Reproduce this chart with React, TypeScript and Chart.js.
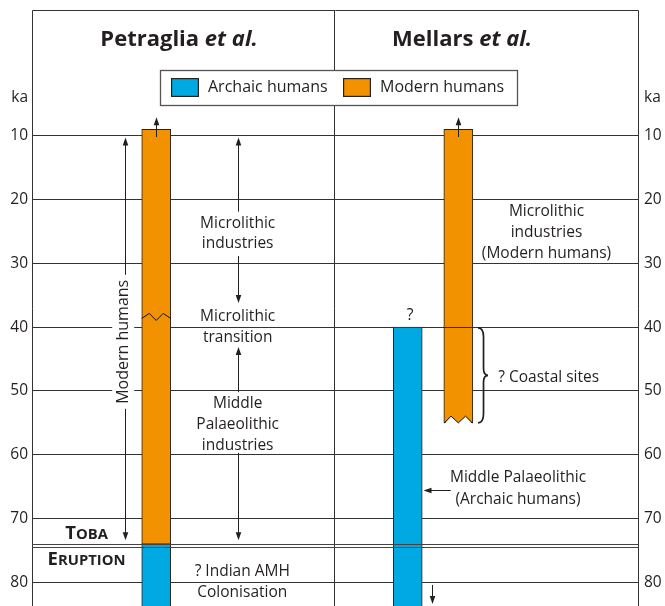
import React, { useEffect, useRef } from 'react';
import { Chart, registerables } from 'chart.js';

Chart.register(...registerables);

// ---------- data ----------
const KA_TICKS = [10, 20, 30, 40, 50, 60, 70, 80];
const KA_TICK_LABELS = ['10', '20', '30', '40', '50', '60', '70', '80'];
const KA_MIN = -9.7;
const KA_MAX = 83.7;

const SERIES_LABELS = ['Archaic humans', 'Modern humans'];
// horizontal positions (0-100 panel units) and age ranges (ka) of each bar
const ARCHAIC_X = [20.5, 62.0];
const ARCHAIC_RANGES: [number, number][] = [[74, 95], [40, 95]];
const MODERN_X = [20.5, 70.35];
const MODERN_RANGES: [number, number][] = [[9, 74], [9, 55]];

const STUDY_NAMES = ['Petraglia', 'Mellars'];
const TOBA_LINES = [74, 74.5];
const DIVIDER_X = 49.85;

// ---------- styles ----------
const ORANGE = '#F29200';
const BLUE = '#00A9E2';
const BAR_BORDER = '#2a2118';
const INK = '#231F20';
const LINE = '#333333';
const FONT_FAMILY = '"Open Sans", "DejaVu Sans", sans-serif';
const FONT = `15.5px ${FONT_FAMILY}`;

function arrow(ctx: CanvasRenderingContext2D, x1: number, y1: number, x2: number, y2: number) {
  const ang = Math.atan2(y2 - y1, x2 - x1);
  const hl = 8, hw = 2.8;
  ctx.beginPath();
  ctx.moveTo(x1, y1);
  ctx.lineTo(x2 - Math.cos(ang) * (hl - 1), y2 - Math.sin(ang) * (hl - 1));
  ctx.stroke();
  ctx.beginPath();
  ctx.moveTo(x2, y2);
  ctx.lineTo(x2 - Math.cos(ang) * hl - Math.sin(ang) * hw, y2 - Math.sin(ang) * hl + Math.cos(ang) * hw);
  ctx.lineTo(x2 - Math.cos(ang) * hl + Math.sin(ang) * hw, y2 - Math.sin(ang) * hl - Math.cos(ang) * hw);
  ctx.closePath();
  ctx.fill();
}

function text(ctx: CanvasRenderingContext2D, s: string, x: number, y: number, align: CanvasTextAlign = 'center', font = FONT) {
  ctx.font = font;
  ctx.textAlign = align;
  ctx.textBaseline = 'middle';
  ctx.fillText(s, x, y);
}

function smallCaps(ctx: CanvasRenderingContext2D, word: string, cx: number, baseline: number) {
  const big = `bold 18.5px ${FONT_FAMILY}`;
  const small = `bold 14.8px ${FONT_FAMILY}`;
  const first = word.charAt(0).toUpperCase();
  const rest = word.slice(1).toUpperCase();
  ctx.font = big;
  const w1 = ctx.measureText(first).width;
  ctx.font = small;
  const w2 = ctx.measureText(rest).width;
  const x = cx - (w1 + w2) / 2;
  ctx.textAlign = 'left';
  ctx.textBaseline = 'alphabetic';
  ctx.font = big;
  ctx.fillText(first, x, baseline);
  ctx.font = small;
  ctx.fillText(rest, x + w1, baseline);
}

function title(ctx: CanvasRenderingContext2D, name: string, cx: number, baseline: number) {
  const f1 = `bold 22px ${FONT_FAMILY}`;
  const f2 = `italic bold 22px ${FONT_FAMILY}`;
  const a = name + ' ';
  const b = 'et al.';
  ctx.font = f1;
  const w1 = ctx.measureText(a).width;
  ctx.font = f2;
  const w2 = ctx.measureText(b).width;
  const x = cx - (w1 + w2) / 2;
  ctx.textAlign = 'left';
  ctx.textBaseline = 'alphabetic';
  ctx.font = f1;
  ctx.fillText(a, x, baseline);
  ctx.font = f2;
  ctx.fillText(b, x + w1, baseline);
}

const annotationPlugin = {
  id: 'annotations',
  afterDatasetsDraw(chart: any) {
    const { ctx, chartArea: ca, scales } = chart;
    const xs = scales.x, ys = scales.y, ys2 = scales.y2;
    const px = (v: number) => xs.getPixelForValue(v);
    const py = (v: number) => ys.getPixelForValue(v);
    const crisp = (v: number) => Math.round(v) + 0.5;
    ctx.save();

    // frame and divider
    ctx.strokeStyle = LINE;
    ctx.lineWidth = 1;
    ctx.beginPath();
    ctx.moveTo(crisp(ca.left), ca.bottom + 2);
    ctx.lineTo(crisp(ca.left), crisp(ca.top));
    ctx.lineTo(crisp(ca.right), crisp(ca.top));
    ctx.lineTo(crisp(ca.right), ca.bottom + 2);
    ctx.moveTo(crisp(px(DIVIDER_X)), crisp(ca.top));
    ctx.lineTo(crisp(px(DIVIDER_X)), ca.bottom + 2);
    ctx.stroke();

    // Toba double line
    ctx.strokeStyle = '#444';
    TOBA_LINES.forEach((k) => {
      ctx.beginPath();
      ctx.moveTo(ca.left, crisp(py(k)));
      ctx.lineTo(ca.right, crisp(py(k)));
      ctx.stroke();
    });

    const modernMeta = chart.getDatasetMeta(1);
    const leftBar = modernMeta.data[0];
    const rightBar = modernMeta.data[1];

    // line across right orange bar at 40 ka
    ctx.strokeStyle = '#3a2a10';
    ctx.beginPath();
    ctx.moveTo(rightBar.x - rightBar.width / 2, crisp(py(40)));
    ctx.lineTo(rightBar.x + rightBar.width / 2, crisp(py(40)));
    ctx.stroke();

    // zigzag break on left orange bar
    {
      const L = leftBar.x - leftBar.width / 2, w = leftBar.width;
      const yc = py(38.4);
      ctx.strokeStyle = '#111';
      ctx.lineWidth = 1;
      ctx.beginPath();
      ctx.moveTo(L, yc + 1.5);
      ctx.lineTo(L + 0.26 * w, yc - 3.5);
      ctx.lineTo(L + 0.5 * w, yc + 3.5);
      ctx.lineTo(L + 0.74 * w, yc - 3.5);
      ctx.lineTo(L + w, yc + 1.5);
      ctx.stroke();
    }

    // torn bottom of right orange bar
    {
      const L = rightBar.x - rightBar.width / 2, w = rightBar.width;
      const yb = py(55), yp = py(53.95);
      ctx.fillStyle = '#ffffff';
      ctx.beginPath();
      ctx.moveTo(L + 0.5, yb + 1.5);
      ctx.lineTo(L + 0.25 * w, yp);
      ctx.lineTo(L + 0.5 * w, yb);
      ctx.lineTo(L + 0.75 * w, yp);
      ctx.lineTo(L + w - 0.5, yb + 1.5);
      ctx.closePath();
      ctx.fill();
      ctx.strokeStyle = '#111';
      ctx.beginPath();
      ctx.moveTo(L + 0.5, yb);
      ctx.lineTo(L + 0.25 * w, yp);
      ctx.lineTo(L + 0.5 * w, yb);
      ctx.lineTo(L + 0.75 * w, yp);
      ctx.lineTo(L + w - 0.5, yb);
      ctx.stroke();
    }

    ctx.fillStyle = INK;
    ctx.strokeStyle = INK;
    ctx.lineWidth = 1;

    // arrows on top of orange bars
    arrow(ctx, Math.round(leftBar.x) + 0.5, py(10.2), Math.round(leftBar.x) + 0.5, py(7.1));
    arrow(ctx, Math.round(rightBar.x) + 0.5, py(10.2), Math.round(rightBar.x) + 0.5, py(7.1));

    // "Modern humans" vertical double arrow
    {
      const x = crisp(px(15.3));
      const yc = py(42.3);
      ctx.save();
      ctx.translate(px(15.05), yc);
      ctx.rotate(-Math.PI / 2);
      ctx.font = `16px ${FONT_FAMILY}`;
      const tw = ctx.measureText('Modern humans').width;
      ctx.fillStyle = '#ffffff';
      ctx.fillRect(-tw / 2 - 3, -11, tw + 6, 22);
      ctx.fillStyle = INK;
      text(ctx, 'Modern humans', 0, 0, 'center', `16px ${FONT_FAMILY}`);
      ctx.restore();
      arrow(ctx, x, yc - tw / 2 - 5, x, py(10.3));
      arrow(ctx, x, yc + tw / 2 + 5, x, py(73.4));
    }

    // middle column arrows (Petraglia)
    {
      const x = crisp(px(33.94));
      arrow(ctx, x, py(21.9), x, py(10.3));
      arrow(ctx, x, py(28.86), x, py(36.2));
      arrow(ctx, x, py(50.2), x, py(43.1));
      arrow(ctx, x, py(59.7), x, py(73.4));
    }

    // Mellars arrows
    arrow(ctx, crisp(px(66.05)), py(80.4), crisp(px(66.05)), py(83.4));
    arrow(ctx, px(69.1), crisp(py(65.48)), px(64.6), crisp(py(65.48)));

    // brace
    {
      const x0 = px(73.6), w = 10;
      const y1 = py(40.1), y2 = py(55), ym = (y1 + y2) / 2;
      const xm = x0 + w * 0.55;
      ctx.lineWidth = 1.7;
      ctx.beginPath();
      ctx.moveTo(x0, y1);
      ctx.quadraticCurveTo(xm, y1, xm, y1 + 9);
      ctx.lineTo(xm, ym - 7);
      ctx.quadraticCurveTo(xm, ym, x0 + w, ym);
      ctx.quadraticCurveTo(xm, ym, xm, ym + 7);
      ctx.lineTo(xm, y2 - 9);
      ctx.quadraticCurveTo(xm, y2, x0, y2);
      ctx.stroke();
      ctx.lineWidth = 1;
    }

    // texts
    ctx.fillStyle = INK;
    const cx = px(33.94);
    text(ctx, 'Microlithic', cx, py(23.84));
    text(ctx, 'industries', cx, py(26.97));
    text(ctx, 'Microlithic', cx, py(38.35));
    text(ctx, 'transition', cx, py(41.64));
    text(ctx, 'Middle', cx, py(51.9));
    text(ctx, 'Palaeolithic', cx, py(55.3));
    text(ctx, 'industries', cx, py(58.5));
    text(ctx, '? Indian AMH', px(34.7), py(78.3));
    text(ctx, 'Colonisation', px(34.7), py(81.56));

    const rx = px(84.9);
    text(ctx, 'Microlithic', rx, py(21.9));
    text(ctx, 'industries', rx, py(25.2));
    text(ctx, '(Modern humans)', rx, py(28.43));
    text(ctx, '?', px(62.4), py(38.2));
    text(ctx, '? Coastal sites', px(76.95), py(47.93), 'left');
    text(ctx, 'Middle Palaeolithic', px(80.2), py(63.54));
    text(ctx, '(Archaic humans)', px(80.2), py(67.0));

    smallCaps(ctx, 'Toba', px(9.0), py(73.25));
    smallCaps(ctx, 'Eruption', px(9.0), py(77.3));

    // titles
    title(ctx, STUDY_NAMES[0], px(24.26), py(-4.05));
    title(ctx, STUDY_NAMES[1], px(70.96), py(-4.05));

    // ka labels
    text(ctx, 'ka', ys.right - 4, py(4), 'right');
    text(ctx, 'ka', ys2.left + 6, py(4), 'left');

    // legend
    {
      const x0 = px(21.1), x1 = px(80.0), y0 = py(-0.29), y1 = py(5.2);
      ctx.fillStyle = '#ffffff';
      ctx.fillRect(x0, y0, x1 - x0, y1 - y0);
      ctx.strokeStyle = '#555';
      ctx.lineWidth = 1.3;
      ctx.strokeRect(Math.round(x0) + 0.5, Math.round(y0) + 0.5, Math.round(x1 - x0), Math.round(y1 - y0));
      const ym = (y0 + y1) / 2;
      const starts = [22.9, 51.25];
      chart.data.datasets.forEach((ds: any, i: number) => {
        const sx = Math.round(px(starts[i]));
        ctx.fillStyle = ds.borderColor;
        ctx.fillRect(sx, Math.round(ym - 9.5), 28, 19);
        ctx.fillStyle = ds.backgroundColor;
        ctx.fillRect(sx + 1.2, Math.round(ym - 9.5) + 1.2, 28 - 2.4, 19 - 2.4);
        ctx.fillStyle = INK;
        text(ctx, ds.label, sx + 37, ym, 'left', `16px ${FONT_FAMILY}`);
      });
    }

    ctx.restore();
  },
};

export default function App() {
  const ref = useRef<HTMLCanvasElement>(null);
  useEffect(() => {
    const canvas = ref.current;
    if (!canvas) return;
    const tickCallback = (v: any) => {
      const i = KA_TICKS.indexOf(Number(v));
      return i >= 0 ? KA_TICK_LABELS[i] : '';
    };
    const yCommon = {
      type: 'linear' as const,
      reverse: true,
      min: KA_MIN,
      max: KA_MAX,
      border: { display: false },
      afterBuildTicks: (s: any) => {
        s.ticks = KA_TICKS.map((v) => ({ value: v }));
      },
    };
    const chart = new Chart(canvas, {
      type: 'bar',
      data: {
        datasets: [
          {
            label: SERIES_LABELS[0],
            data: ARCHAIC_X.map((x, i) => ({ x, y: ARCHAIC_RANGES[i] })) as any,
            backgroundColor: BLUE,
            borderColor: BAR_BORDER,
            borderWidth: 1,
            borderSkipped: false,
            barThickness: 29,
          },
          {
            label: SERIES_LABELS[1],
            data: MODERN_X.map((x, i) => ({ x, y: MODERN_RANGES[i] })) as any,
            backgroundColor: ORANGE,
            borderColor: BAR_BORDER,
            borderWidth: 1,
            borderSkipped: false,
            barThickness: 29,
          },
        ],
      },
      options: {
        animation: false,
        responsive: false,
        maintainAspectRatio: false,
        layout: { padding: { top: 10, bottom: 0, left: 0, right: 0 } },
        datasets: { bar: { grouped: false } } as any,
        plugins: {
          legend: { display: false },
          tooltip: { enabled: false },
          title: { display: false },
        },
        scales: {
          x: { type: 'linear', min: 0, max: 100, display: false, offset: false },
          y: {
            ...yCommon,
            position: 'left',
            afterFit: (s: any) => {
              s.width = 32;
              s.paddingTop = 0;
              s.paddingBottom = 0;
            },
            grid: { color: LINE, lineWidth: 1, drawTicks: false },
            ticks: { padding: 4, color: INK, font: { family: FONT_FAMILY, size: 15.5 }, callback: tickCallback },
          },
          y2: {
            ...yCommon,
            position: 'right',
            afterFit: (s: any) => {
              s.width = 27;
              s.paddingTop = 0;
              s.paddingBottom = 0;
            },
            grid: { display: false, drawTicks: false },
            ticks: { padding: 6, color: INK, font: { family: FONT_FAMILY, size: 15.5 }, callback: tickCallback },
          },
        } as any,
      },
      plugins: [annotationPlugin],
    });
    return () => chart.destroy();
  }, []);
  return (
    <div style={{ position: 'absolute', left: 0, top: 0, width: 665, height: 606, background: '#fff' }}>
      <canvas ref={ref} width={665} height={606} style={{ display: 'block', width: 665, height: 606 }} />
    </div>
  );
}
